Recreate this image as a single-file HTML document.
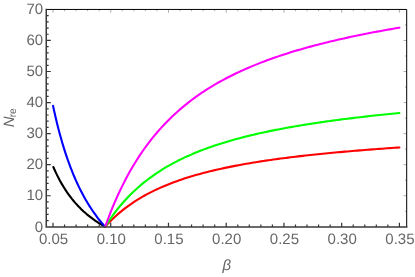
<!DOCTYPE html>
<html><head><meta charset="utf-8"><title>Plot</title>
<style>html,body{margin:0;padding:0;background:#fff;}body{width:415px;height:277px;overflow:hidden;font-family:"Liberation Sans",sans-serif;}</style></head>
<body>
<svg width="415" height="277" viewBox="0 0 415 277" style="display:block;will-change:transform;transform:translateZ(0)" text-rendering="geometricPrecision">
<rect width="415" height="277" fill="#ffffff"/>
<path d="M53.00,9.45v3.20M64.55,9.45v1.80M76.09,9.45v1.80M87.64,9.45v1.80M99.19,9.45v1.80M110.74,9.45v3.20M122.28,9.45v1.80M133.83,9.45v1.80M145.38,9.45v1.80M156.92,9.45v1.80M168.47,9.45v3.20M180.02,9.45v1.80M191.56,9.45v1.80M203.11,9.45v1.80M214.66,9.45v1.80M226.21,9.45v3.20M237.75,9.45v1.80M249.30,9.45v1.80M260.85,9.45v1.80M272.39,9.45v1.80M283.94,9.45v3.20M295.49,9.45v1.80M307.03,9.45v1.80M318.58,9.45v1.80M330.13,9.45v1.80M341.68,9.45v3.20M353.22,9.45v1.80M364.77,9.45v1.80M376.32,9.45v1.80M387.86,9.45v1.80M399.41,9.45v3.20M406.70,211.27h-1.80M406.70,195.74h-3.20M406.70,180.21h-1.80M406.70,164.69h-3.20M406.70,149.16h-1.80M406.70,133.63h-3.20M406.70,118.10h-1.80M406.70,102.57h-3.20M406.70,87.04h-1.80M406.70,71.51h-3.20M406.70,55.99h-1.80M406.70,40.46h-3.20M406.70,24.93h-1.80" stroke="#888888" stroke-width="0.7" fill="none"/>
<path d="M53.00,226.90v-4.10M64.55,226.90v-2.40M76.09,226.90v-2.40M87.64,226.90v-2.40M99.19,226.90v-2.40M110.74,226.90v-4.10M122.28,226.90v-2.40M133.83,226.90v-2.40M145.38,226.90v-2.40M156.92,226.90v-2.40M168.47,226.90v-4.10M180.02,226.90v-2.40M191.56,226.90v-2.40M203.11,226.90v-2.40M214.66,226.90v-2.40M226.21,226.90v-4.10M237.75,226.90v-2.40M249.30,226.90v-2.40M260.85,226.90v-2.40M272.39,226.90v-2.40M283.94,226.90v-4.10M295.49,226.90v-2.40M307.03,226.90v-2.40M318.58,226.90v-2.40M330.13,226.90v-2.40M341.68,226.90v-4.10M353.22,226.90v-2.40M364.77,226.90v-2.40M376.32,226.90v-2.40M387.86,226.90v-2.40M399.41,226.90v-4.10M46.25,220.59h2.40M46.25,214.38h2.40M46.25,208.17h2.40M46.25,201.95h2.40M46.25,195.74h4.50M46.25,189.53h2.40M46.25,183.32h2.40M46.25,177.11h2.40M46.25,170.90h2.40M46.25,164.69h4.50M46.25,158.47h2.40M46.25,152.26h2.40M46.25,146.05h2.40M46.25,139.84h2.40M46.25,133.63h4.50M46.25,127.42h2.40M46.25,121.21h2.40M46.25,114.99h2.40M46.25,108.78h2.40M46.25,102.57h4.50M46.25,96.36h2.40M46.25,90.15h2.40M46.25,83.94h2.40M46.25,77.73h2.40M46.25,71.51h4.50M46.25,65.30h2.40M46.25,59.09h2.40M46.25,52.88h2.40M46.25,46.67h2.40M46.25,40.46h4.50M46.25,34.25h2.40M46.25,28.03h2.40M46.25,21.82h2.40M46.25,15.61h2.40" stroke="#333333" stroke-width="1.2" fill="none"/>
<path d="M53.35,167.03 L54.67,170.04 L56.00,172.91 L57.33,175.64 L58.66,178.25 L59.98,180.74 L61.31,183.12 L62.64,185.39 L63.97,187.57 L65.30,189.65 L66.62,191.65 L67.95,193.57 L69.28,195.41 L70.61,197.18 L71.93,198.88 L73.26,200.51 L74.59,202.09 L75.92,203.61 L77.24,205.07 L78.57,206.48 L79.90,207.84 L81.23,209.15 L82.55,210.42 L83.88,211.65 L85.21,212.83 L86.54,213.98 L87.86,215.09 L89.19,216.16 L90.52,217.20 L91.85,218.21 L93.18,219.19 L94.50,220.14 L95.83,221.06 L97.16,221.95 L98.49,222.82 L99.81,223.66 L101.14,224.48 L102.47,225.27 L103.80,226.05 L105.12,226.80" stroke="#000000" stroke-width="2.1" fill="none" stroke-linejoin="round" stroke-linecap="round"/>
<path d="M53.06,105.90 L54.39,112.03 L55.73,117.86 L57.06,123.41 L58.40,128.70 L59.73,133.75 L61.07,138.57 L62.40,143.18 L63.74,147.59 L65.07,151.82 L66.41,155.87 L67.74,159.75 L69.08,163.47 L70.41,167.05 L71.75,170.49 L73.08,173.80 L74.42,176.98 L75.75,180.05 L77.09,183.00 L78.42,185.85 L79.76,188.59 L81.09,191.24 L82.43,193.80 L83.76,196.28 L85.10,198.67 L86.43,200.98 L87.77,203.22 L89.10,205.38 L90.44,207.48 L91.77,209.51 L93.11,211.48 L94.44,213.39 L95.78,215.24 L97.11,217.04 L98.45,218.79 L99.78,220.48 L101.12,222.13 L102.45,223.73 L103.79,225.29 L105.12,226.80" stroke="#0000ff" stroke-width="2.1" fill="none" stroke-linejoin="round" stroke-linecap="round"/>
<path d="M105.12,226.80 L107.60,224.10 L110.07,221.54 L112.54,219.09 L115.02,216.76 L117.49,214.54 L119.96,212.41 L122.43,210.38 L124.91,208.44 L127.38,206.58 L129.85,204.80 L132.33,203.09 L134.80,201.45 L137.27,199.87 L139.75,198.36 L142.22,196.90 L144.69,195.50 L147.16,194.15 L149.64,192.85 L152.11,191.59 L154.58,190.38 L157.06,189.21 L159.53,188.08 L162.00,186.99 L164.48,185.93 L166.95,184.91 L169.42,183.93 L171.89,182.97 L174.37,182.04 L176.84,181.14 L179.31,180.27 L181.79,179.43 L184.26,178.61 L186.73,177.81 L189.21,177.03 L191.68,176.28 L194.15,175.55 L196.62,174.84 L199.10,174.15 L201.57,173.48 L204.04,172.82 L206.52,172.18 L208.99,171.56 L211.46,170.95 L213.94,170.36 L216.41,169.79 L218.88,169.22 L221.35,168.68 L223.83,168.14 L226.30,167.62 L228.77,167.11 L231.25,166.61 L233.72,166.12 L236.19,165.64 L238.67,165.18 L241.14,164.72 L243.61,164.27 L246.08,163.84 L248.56,163.41 L251.03,162.99 L253.50,162.58 L255.98,162.18 L258.45,161.79 L260.92,161.40 L263.40,161.02 L265.87,160.65 L268.34,160.29 L270.81,159.93 L273.29,159.58 L275.76,159.24 L278.23,158.90 L280.71,158.57 L283.18,158.25 L285.65,157.93 L288.13,157.61 L290.60,157.30 L293.07,157.00 L295.54,156.70 L298.02,156.41 L300.49,156.12 L302.96,155.84 L305.44,155.56 L307.91,155.29 L310.38,155.02 L312.86,154.75 L315.33,154.49 L317.80,154.23 L320.27,153.98 L322.75,153.73 L325.22,153.49 L327.69,153.24 L330.17,153.01 L332.64,152.77 L335.11,152.54 L337.59,152.31 L340.06,152.09 L342.53,151.86 L345.00,151.64 L347.48,151.43 L349.95,151.21 L352.42,151.00 L354.90,150.80 L357.37,150.59 L359.84,150.39 L362.32,150.19 L364.79,149.99 L367.26,149.80 L369.73,149.61 L372.21,149.42 L374.68,149.23 L377.15,149.04 L379.63,148.86 L382.10,148.68 L384.57,148.50 L387.05,148.32 L389.52,148.15 L391.99,147.98 L394.46,147.80 L396.94,147.64 L399.41,147.47" stroke="#ff0000" stroke-width="2.1" fill="none" stroke-linejoin="round" stroke-linecap="round"/>
<path d="M105.12,226.80 L107.60,222.93 L110.07,219.25 L112.54,215.74 L115.02,212.40 L117.49,209.21 L119.96,206.17 L122.43,203.25 L124.91,200.47 L127.38,197.80 L129.85,195.24 L132.33,192.79 L134.80,190.44 L137.27,188.18 L139.75,186.00 L142.22,183.91 L144.69,181.90 L147.16,179.97 L149.64,178.10 L152.11,176.30 L154.58,174.56 L157.06,172.89 L159.53,171.27 L162.00,169.70 L164.48,168.19 L166.95,166.72 L169.42,165.31 L171.89,163.93 L174.37,162.60 L176.84,161.31 L179.31,160.06 L181.79,158.85 L184.26,157.67 L186.73,156.53 L189.21,155.42 L191.68,154.34 L194.15,153.29 L196.62,152.27 L199.10,151.28 L201.57,150.32 L204.04,149.38 L206.52,148.46 L208.99,147.57 L211.46,146.70 L213.94,145.85 L216.41,145.02 L218.88,144.22 L221.35,143.43 L223.83,142.66 L226.30,141.91 L228.77,141.18 L231.25,140.46 L233.72,139.76 L236.19,139.08 L238.67,138.41 L241.14,137.76 L243.61,137.12 L246.08,136.49 L248.56,135.88 L251.03,135.28 L253.50,134.69 L255.98,134.11 L258.45,133.55 L260.92,133.00 L263.40,132.45 L265.87,131.92 L268.34,131.40 L270.81,130.89 L273.29,130.39 L275.76,129.90 L278.23,129.41 L280.71,128.94 L283.18,128.47 L285.65,128.01 L288.13,127.56 L290.60,127.12 L293.07,126.69 L295.54,126.26 L298.02,125.84 L300.49,125.43 L302.96,125.02 L305.44,124.62 L307.91,124.23 L310.38,123.84 L312.86,123.46 L315.33,123.09 L317.80,122.72 L320.27,122.36 L322.75,122.00 L325.22,121.65 L327.69,121.30 L330.17,120.96 L332.64,120.62 L335.11,120.29 L337.59,119.96 L340.06,119.64 L342.53,119.32 L345.00,119.00 L347.48,118.69 L349.95,118.39 L352.42,118.09 L354.90,117.79 L357.37,117.49 L359.84,117.20 L362.32,116.92 L364.79,116.64 L367.26,116.36 L369.73,116.08 L372.21,115.81 L374.68,115.54 L377.15,115.27 L379.63,115.01 L382.10,114.75 L384.57,114.49 L387.05,114.24 L389.52,113.99 L391.99,113.74 L394.46,113.50 L396.94,113.25 L399.41,113.01" stroke="#00ff00" stroke-width="2.1" fill="none" stroke-linejoin="round" stroke-linecap="round"/>
<path d="M105.12,226.80 L107.60,220.03 L110.07,213.59 L112.54,207.45 L115.02,201.60 L117.49,196.02 L119.96,190.69 L122.43,185.59 L124.91,180.72 L127.38,176.05 L129.85,171.58 L132.33,167.29 L134.80,163.17 L137.27,159.21 L139.75,155.41 L142.22,151.75 L144.69,148.23 L147.16,144.84 L149.64,141.57 L152.11,138.42 L154.58,135.38 L157.06,132.45 L159.53,129.61 L162.00,126.88 L164.48,124.23 L166.95,121.66 L169.42,119.18 L171.89,116.78 L174.37,114.45 L176.84,112.20 L179.31,110.01 L181.79,107.89 L184.26,105.83 L186.73,103.83 L189.21,101.89 L191.68,100.00 L194.15,98.16 L196.62,96.38 L199.10,94.64 L201.57,92.95 L204.04,91.31 L206.52,89.71 L208.99,88.14 L211.46,86.62 L213.94,85.14 L216.41,83.69 L218.88,82.28 L221.35,80.90 L223.83,79.56 L226.30,78.25 L228.77,76.97 L231.25,75.71 L233.72,74.49 L236.19,73.29 L238.67,72.12 L241.14,70.98 L243.61,69.86 L246.08,68.76 L248.56,67.69 L251.03,66.64 L253.50,65.61 L255.98,64.60 L258.45,63.61 L260.92,62.64 L263.40,61.70 L265.87,60.77 L268.34,59.85 L270.81,58.96 L273.29,58.08 L275.76,57.22 L278.23,56.37 L280.71,55.54 L283.18,54.73 L285.65,53.92 L288.13,53.14 L290.60,52.36 L293.07,51.60 L295.54,50.86 L298.02,50.12 L300.49,49.40 L302.96,48.69 L305.44,47.99 L307.91,47.30 L310.38,46.63 L312.86,45.96 L315.33,45.30 L317.80,44.66 L320.27,44.02 L322.75,43.40 L325.22,42.78 L327.69,42.17 L330.17,41.57 L332.64,40.98 L335.11,40.40 L337.59,39.83 L340.06,39.26 L342.53,38.71 L345.00,38.16 L347.48,37.61 L349.95,37.08 L352.42,36.55 L354.90,36.03 L357.37,35.52 L359.84,35.01 L362.32,34.51 L364.79,34.01 L367.26,33.52 L369.73,33.04 L372.21,32.56 L374.68,32.09 L377.15,31.63 L379.63,31.17 L382.10,30.71 L384.57,30.26 L387.05,29.82 L389.52,29.38 L391.99,28.95 L394.46,28.52 L396.94,28.09 L399.41,27.67" stroke="#ff00ff" stroke-width="2.1" fill="none" stroke-linejoin="round" stroke-linecap="round"/>
<path d="M46.25,9.45H406.70V226.90" fill="none" stroke="#000000" stroke-width="1.0"/>
<path d="M46.25,9.45V226.90H406.70" fill="none" stroke="#3a3a3a" stroke-width="1.5" stroke-linecap="square"/>
<g font-family="'Liberation Sans', sans-serif" font-size="15" fill="#666666">
<text x="43.2" y="231.50" text-anchor="end">0</text>
<text x="43.2" y="200.44" text-anchor="end">10</text>
<text x="43.2" y="169.39" text-anchor="end">20</text>
<text x="43.2" y="138.33" text-anchor="end">30</text>
<text x="43.2" y="107.27" text-anchor="end">40</text>
<text x="43.2" y="76.21" text-anchor="end">50</text>
<text x="43.2" y="45.16" text-anchor="end">60</text>
<text x="43.2" y="14.10" text-anchor="end">70</text>
<text x="53.50" y="244.1" text-anchor="middle">0.05</text>
<text x="111.24" y="244.1" text-anchor="middle">0.10</text>
<text x="168.97" y="244.1" text-anchor="middle">0.15</text>
<text x="226.71" y="244.1" text-anchor="middle">0.20</text>
<text x="284.44" y="244.1" text-anchor="middle">0.25</text>
<text x="342.18" y="244.1" text-anchor="middle">0.30</text>
<text x="399.91" y="244.1" text-anchor="middle">0.35</text>
<text x="226.7" y="269.5" text-anchor="middle" font-style="italic">β</text>
<text transform="translate(14.1,127.2) rotate(-90)"><tspan font-style="italic">N</tspan><tspan font-size="10.3" dy="2.0" dx="-1.0">re</tspan></text>
</g>
</svg>
</body></html>
